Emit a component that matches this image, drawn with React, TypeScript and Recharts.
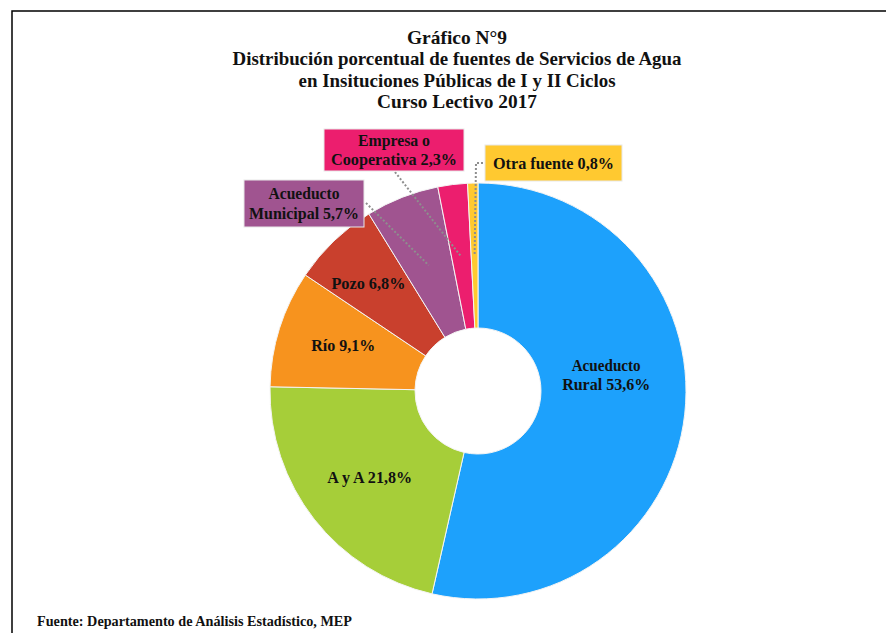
import { PieChart, Pie, Cell } from 'recharts';

const CATEGORIES = [
  'Acueducto Rural',
  'A y A',
  'Río',
  'Pozo',
  'Acueducto Municipal',
  'Empresa o Cooperativa',
  'Otra fuente',
];
const VALUES = [53.6, 21.8, 9.1, 6.8, 5.7, 2.3, 0.8];
const COLORS = ['#1DA1FC', '#A6CE39', '#F7931E', '#C9402D', '#A05490', '#EC1E6E', '#FFC930'];

const TITLE_LINES = [
  'Gráfico N°9',
  'Distribución porcentual de fuentes de Servicios de Agua',
  'en Insituciones Públicas de I y II  Ciclos',
  'Curso Lectivo 2017',
];
const SOURCE = 'Fuente: Departamento de Análisis Estadístico, MEP';

const data = CATEGORIES.map((name, i) => ({ name, value: VALUES[i] }));

const W = 886;
const H = 633;
const RADIAN = Math.PI / 180;
const FONT = '"Liberation Serif", "Times New Roman", serif';

// label placement, relative to the slice midpoint (inside) or the chart centre (boxes)
type LabelLayout = {
  breakAfter: number;
  widths: number[];
  dx?: number;
  dy?: number;
  box?: { x: number; y: number; w: number; h: number; from: [number, number][] };
};

const LABEL_LAYOUT: LabelLayout[] = [
  { breakAfter: 1, widths: [69, 88], dx: -6, dy: -31 },
  { breakAfter: 0, widths: [85], dx: -2, dy: 3 },
  { breakAfter: 0, widths: [64], dx: -6, dy: -5 },
  { breakAfter: 0, widths: [74], dx: -16, dy: -10 },
  { breakAfter: 1, widths: [71, 110], box: { x: -234, y: -211, w: 120, h: 47, from: [[-112, -188]] } },
  { breakAfter: 2, widths: [72, 126], box: { x: -154, y: -262, w: 140, h: 42, from: [[-83, -219]] } },
  { breakAfter: 0, widths: [121], box: { x: 7, y: -246, w: 137, h: 36, from: [[5, -228], [-2, -228]] } },
];

const renderLabel = (props: any) => {
  const { cx, cy, midAngle, index } = props;
  const layout = LABEL_LAYOUT[index];
  const pct = VALUES[index].toFixed(1).replace('.', ',') + '%';
  const words = CATEGORIES[index].split(' ');
  const lines = layout.breakAfter
    ? [words.slice(0, layout.breakAfter).join(' '), words.slice(layout.breakAfter).join(' ') + '  ' + pct]
    : [CATEGORIES[index] + ' ' + pct];
  const r = 135;
  const mx = cx + r * Math.cos(-midAngle * RADIAN);
  const my = cy + r * Math.sin(-midAngle * RADIAN);
  const lh = 19.5;

  let tx: number;
  let ty: number;
  let extra = null;
  if (layout.box) {
    const b = layout.box;
    tx = cx + b.x + b.w / 2;
    ty = cy + b.y + b.h / 2;
    const pts = [...b.from.map(([px, py]) => [cx + px, cy + py]), [mx, my]];
    extra = (
      <>
        <polyline
          points={pts.map((p) => p.join(',')).join(' ')}
          fill="none"
          stroke="#8E8E8E"
          strokeWidth={2}
          strokeDasharray="2 2"
        />
        <rect x={cx + b.x} y={cy + b.y} width={b.w} height={b.h} fill={COLORS[index]} stroke="#E8E8E8" strokeWidth={1} />
      </>
    );
  } else {
    tx = mx + (layout.dx ?? 0);
    ty = my + (layout.dy ?? 0);
  }
  const y0 = ty - ((lines.length - 1) * lh) / 2;
  return (
    <g key={`label-${index}`}>
      {extra}
      {lines.map((line, i) => (
        <text
          key={i}
          x={tx}
          y={y0 + i * lh}
          textAnchor="middle"
          dominantBaseline="central"
          fontFamily={FONT}
          fontWeight="bold"
          fontSize={16.5}
          fill="#111"
          textLength={layout.widths[i]}
          lengthAdjust="spacingAndGlyphs"
        >
          {line}
        </text>
      ))}
    </g>
  );
};

const TITLE_Y = [37, 58, 80, 101];
const TITLE_W = [100, 449, 317, 160];

export default function App() {
  return (
    <div style={{ position: 'absolute', left: 0, top: 0, width: W, height: H, background: '#fff' }}>
      <PieChart width={W} height={H} margin={{ top: 0, right: 0, bottom: 0, left: 0 }}>
        <Pie
          data={data}
          dataKey="value"
          nameKey="name"
          cx={478}
          cy={391}
          innerRadius={63}
          outerRadius={208}
          startAngle={90}
          endAngle={-270}
          stroke="#F4F4F4"
          strokeWidth={1}
          label={renderLabel}
          labelLine={false}
          isAnimationActive={false}
        >
          {data.map((_, i) => (
            <Cell key={`cell-${i}`} fill={COLORS[i]} />
          ))}
        </Pie>
      </PieChart>
      <svg width={W} height={H} style={{ position: 'absolute', left: 0, top: 0, pointerEvents: 'none' }}>
        <polyline points={`12,${H} 12,11 ${W},11`} fill="none" stroke="#000" strokeWidth={1.5} />
        {TITLE_LINES.map((line, i) => (
          <text
            key={i}
            x={457}
            y={TITLE_Y[i]}
            textAnchor="middle"
            dominantBaseline="central"
            fontFamily={FONT}
            fontWeight="bold"
            fontSize={19}
            fill="#111"
            textLength={TITLE_W[i]}
            lengthAdjust="spacingAndGlyphs"
          >
            {line}
          </text>
        ))}
        <text
          x={37}
          y={621}
          dominantBaseline="central"
          fontFamily={FONT}
          fontWeight="bold"
          fontSize={14}
          fill="#111"
          textLength={315}
          lengthAdjust="spacingAndGlyphs"
        >
          {SOURCE}
        </text>
      </svg>
    </div>
  );
}
